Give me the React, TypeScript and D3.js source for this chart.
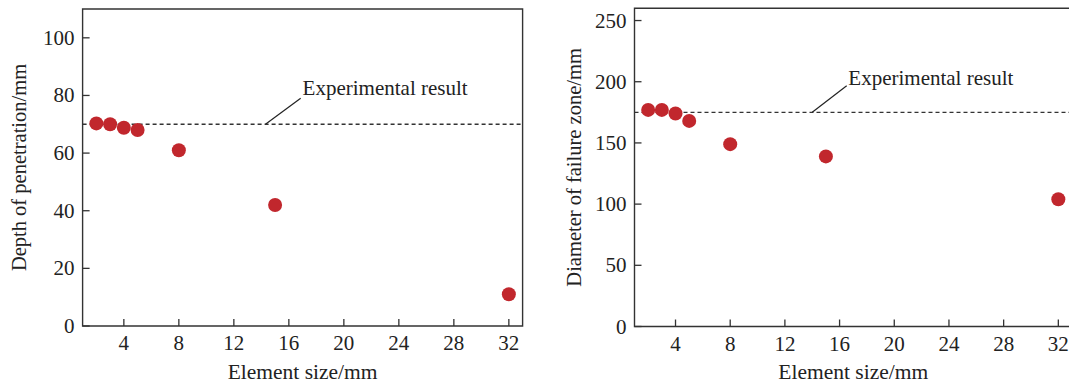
import React from "react";
import * as d3 from "d3";

const elementSizes = [2, 3, 4, 5, 8, 15, 32];
const penetrationDepth = [70.3, 70, 68.8, 68, 61, 42, 11];
const failureDiameter = [177, 177, 174, 168, 149, 139, 104];
const expPenetration = 70;
const expDiameter = 175;
const xTicks = [4, 8, 12, 16, 20, 24, 28, 32];
const yTicksLeft = [0, 20, 40, 60, 80, 100];
const yTicksRight = [0, 50, 100, 150, 200, 250];

const FONT = "'Liberation Serif', 'Times New Roman', serif";
const AX = "#333";
const DOT = "#c1272d";

type PanelProps = {
  x0: number; x1: number; y0: number; y1: number;
  yMax: number; values: number[]; yTicks: number[]; exp: number;
  yLabel: string; yLabelX: number;
  leader: [number, number, number, number];
  textPos: [number, number];
};

function Panel(p: PanelProps) {
  const x = d3.scaleLinear().domain([1, 33]).range([p.x0, p.x1]);
  const y = d3.scaleLinear().domain([0, p.yMax]).range([p.y0, p.y1]);
  const L = p.x0, R = p.x1, B = p.y0, T = p.y1;
  const tl = 7;
  return (
    <g fontFamily={FONT} fill="#222">
      <path d={`M${L},${T}H${R}V${B}H${L}Z`} fill="none" stroke={AX} strokeWidth={1.4} />
      {xTicks.map((t) => (
        <g key={"x" + t}>
          <line x1={x(t)} x2={x(t)} y1={B} y2={B - tl} stroke={AX} strokeWidth={1.3} />
          <text x={x(t)} y={B + 24} textAnchor="middle" fontSize={21}>{t}</text>
        </g>
      ))}
      {p.yTicks.map((t) => (
        <g key={"y" + t}>
          <line x1={L} x2={L + tl} y1={y(t)} y2={y(t)} stroke={AX} strokeWidth={1.3} />
          <text x={L - 8} y={y(t) + 7} textAnchor="end" fontSize={21}>{t}</text>
        </g>
      ))}
      <line x1={L} x2={R} y1={y(p.exp)} y2={y(p.exp)} stroke={AX} strokeWidth={1.3} strokeDasharray="4,3" />
      <line x1={x(p.leader[0])} y1={y(p.leader[1])} x2={x(p.leader[2])} y2={y(p.leader[3])} stroke="#222" strokeWidth={1.2} />
      <text x={x(p.textPos[0])} y={y(p.textPos[1])} fontSize={21}>Experimental result</text>
      {elementSizes.map((s, i) => (
        <circle key={i} cx={x(s)} cy={y(p.values[i])} r={7} fill={DOT} />
      ))}
      <text x={x(17)} y={379} textAnchor="middle" fontSize={21.5}>Element size/mm</text>
      <text transform={`translate(${p.yLabelX},${(T + B) / 2}) rotate(-90)`} textAnchor="middle" fontSize={20.5}>{p.yLabel}</text>
    </g>
  );
}

export default function App() {
  return (
    <svg width={1069} height={385} style={{ position: "absolute", left: 0, top: 0, background: "#fff" }}>
      <rect width={1069} height={385} fill="#fff" />
      <Panel x0={82.6} x1={522.6} y0={326} y1={9} yMax={110} values={penetrationDepth}
        yTicks={yTicksLeft} exp={expPenetration} yLabel="Depth of penetration/mm" yLabelX={26}
        leader={[14.3, 70, 16.86, 79]} textPos={[17, 80.1]} />
      <Panel x0={634.5} x1={1072} y0={326.5} y1={8.3} yMax={260} values={failureDiameter}
        yTicks={yTicksRight} exp={expDiameter} yLabel="Diameter of failure zone/mm" yLabelX={581}
        leader={[14, 175, 16.52, 196.7]} textPos={[16.64, 197.3]} />
    </svg>
  );
}
